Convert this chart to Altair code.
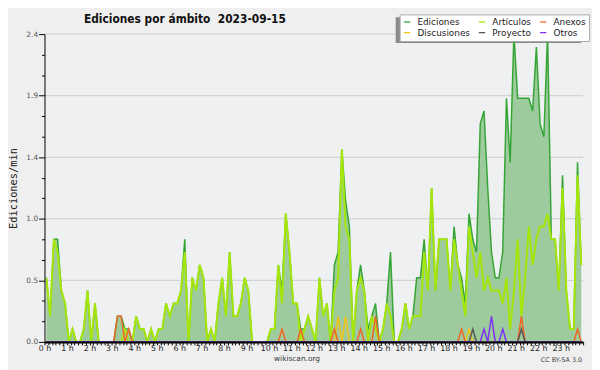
import altair as alt
import pandas as pd

# ---------------- data (edits per minute, 10-minute bins, 0:00 -> 24:00) ----------------
SERIES = ["Ediciones", "Artículos", "Anexos", "Discusiones", "Proyecto", "Otros"]
COLORS = ["#35a535", "#a6e60a", "#f26522", "#f2c418", "#555555", "#7f2ff0"]

ediciones = [
    0.5, 0.2, 0.8, 0.8, 0.4, 0.3, 0.0, 0.1, 0.0, 0.0, 0.1, 0.4,
    0.0, 0.3, 0.0, 0.0, 0.0, 0.0, 0.0, 0.2, 0.2, 0.1, 0.1, 0.0,
    0.2, 0.1, 0.1, 0.0, 0.1, 0.0, 0.1, 0.1, 0.3, 0.2, 0.3, 0.3,
    0.4, 0.8, 0.0, 0.5, 0.4, 0.6, 0.5, 0.0, 0.1, 0.0, 0.3, 0.5,
    0.2, 0.7, 0.2, 0.2, 0.3, 0.5, 0.4, 0.0, 0.0, 0.0, 0.0, 0.0,
    0.1, 0.1, 0.6, 0.4, 1.0, 0.7, 0.3, 0.3, 0.1, 0.1, 0.2, 0.1,
    0.0, 0.5, 0.2, 0.3, 0.0, 0.6, 0.7, 1.5, 1.1, 0.9, 0.0, 0.4,
    0.6, 0.4, 0.1, 0.2, 0.3, 0.0, 0.1, 0.3, 0.7, 0.0, 0.0, 0.1,
    0.3, 0.1, 0.2, 0.5, 0.5, 0.8, 0.4, 1.2, 0.4, 0.8, 0.8, 0.8,
    0.4, 0.9, 0.6, 0.5, 0.3, 1.0, 0.8, 0.7, 1.7, 1.8, 1.2, 0.7,
    0.5, 0.5, 0.7, 1.9, 1.4, 2.4, 1.9, 1.9, 1.9, 1.9, 1.8, 2.3,
    1.7, 1.6, 2.4, 0.8, 0.8, 0.4, 1.3, 0.4, 0.1, 0.1, 1.4, 0.6,
]
articulos = [
    0.5, 0.2, 0.8, 0.7, 0.4, 0.3, 0.0, 0.1, 0.0, 0.0, 0.1, 0.4,
    0.0, 0.3, 0.0, 0.0, 0.0, 0.0, 0.0, 0.0, 0.0, 0.1, 0.0, 0.0,
    0.2, 0.1, 0.1, 0.0, 0.1, 0.0, 0.1, 0.1, 0.3, 0.2, 0.3, 0.3,
    0.4, 0.7, 0.0, 0.5, 0.4, 0.6, 0.5, 0.0, 0.1, 0.0, 0.3, 0.5,
    0.2, 0.7, 0.2, 0.2, 0.3, 0.5, 0.4, 0.0, 0.0, 0.0, 0.0, 0.0,
    0.1, 0.1, 0.6, 0.3, 1.0, 0.7, 0.3, 0.3, 0.0, 0.1, 0.2, 0.1,
    0.0, 0.5, 0.2, 0.3, 0.0, 0.4, 0.5, 1.5, 0.9, 0.8, 0.0, 0.4,
    0.5, 0.4, 0.0, 0.2, 0.1, 0.0, 0.1, 0.3, 0.2, 0.0, 0.0, 0.1,
    0.3, 0.1, 0.2, 0.2, 0.2, 0.7, 0.4, 1.2, 0.4, 0.8, 0.8, 0.8,
    0.4, 0.8, 0.6, 0.4, 0.2, 0.9, 0.7, 0.5, 0.7, 0.4, 0.5, 0.4,
    0.4, 0.4, 0.3, 0.5, 0.1, 0.4, 0.8, 0.2, 0.5, 0.9, 0.6, 0.8,
    0.9, 0.9, 1.0, 0.8, 0.8, 0.4, 1.2, 0.4, 0.1, 0.1, 1.3, 0.6,
]
anexos = [
    0, 0, 0, 0, 0, 0, 0, 0, 0, 0, 0, 0,
    0, 0, 0, 0, 0, 0, 0, 0.2, 0.2, 0, 0.1, 0,
    0, 0, 0, 0, 0, 0, 0, 0, 0, 0, 0, 0,
    0, 0, 0, 0, 0, 0, 0, 0, 0, 0, 0, 0,
    0, 0, 0, 0, 0, 0, 0, 0, 0, 0, 0, 0,
    0, 0, 0, 0.1, 0, 0, 0, 0, 0.1, 0, 0, 0,
    0, 0, 0, 0, 0, 0.1, 0, 0, 0, 0, 0, 0,
    0.1, 0, 0, 0, 0.2, 0, 0, 0, 0, 0, 0, 0,
    0, 0, 0, 0, 0, 0, 0, 0, 0, 0, 0, 0,
    0, 0, 0, 0.1, 0, 0, 0, 0, 0, 0, 0, 0,
    0, 0, 0, 0, 0, 0, 0, 0.2, 0, 0, 0, 0,
    0, 0, 0, 0, 0, 0, 0, 0, 0, 0, 0.1, 0,
]
discusiones = [
    0, 0, 0, 0, 0, 0, 0, 0, 0, 0, 0, 0,
    0, 0, 0, 0, 0, 0, 0, 0, 0, 0, 0, 0,
    0, 0, 0, 0, 0, 0, 0, 0, 0, 0, 0, 0,
    0, 0, 0, 0, 0, 0, 0, 0, 0, 0, 0, 0,
    0, 0, 0, 0, 0, 0, 0, 0, 0, 0, 0, 0,
    0, 0, 0, 0, 0, 0, 0, 0, 0, 0, 0, 0,
    0, 0, 0, 0, 0, 0, 0.2, 0, 0.2, 0, 0, 0,
    0, 0, 0, 0, 0, 0, 0, 0, 0, 0, 0, 0,
    0, 0, 0, 0, 0, 0, 0, 0, 0, 0, 0, 0,
    0, 0, 0, 0, 0, 0.1, 0, 0, 0, 0, 0, 0,
    0, 0, 0, 0, 0, 0, 0, 0, 0, 0, 0, 0,
    0, 0, 0, 0, 0, 0, 0, 0, 0, 0, 0, 0,
]
proyecto = [
    0, 0, 0, 0, 0, 0, 0, 0, 0, 0, 0, 0,
    0, 0, 0, 0, 0, 0, 0, 0, 0, 0, 0, 0,
    0, 0, 0, 0, 0, 0, 0, 0, 0, 0, 0, 0,
    0, 0, 0, 0, 0, 0, 0, 0, 0, 0, 0, 0,
    0, 0, 0, 0, 0, 0, 0, 0, 0, 0, 0, 0,
    0, 0, 0, 0, 0, 0, 0, 0, 0, 0, 0, 0,
    0, 0, 0, 0, 0, 0, 0, 0, 0, 0, 0, 0,
    0, 0, 0, 0, 0, 0, 0, 0, 0, 0, 0, 0,
    0, 0, 0, 0, 0, 0, 0, 0, 0, 0, 0, 0,
    0, 0, 0, 0, 0, 0, 0.1, 0, 0, 0, 0, 0,
    0, 0, 0, 0, 0, 0, 0, 0.1, 0, 0, 0, 0,
    0, 0, 0, 0, 0, 0, 0, 0, 0, 0, 0, 0,
]
otros = [
    0, 0, 0, 0, 0, 0, 0, 0, 0, 0, 0, 0,
    0, 0, 0, 0, 0, 0, 0, 0, 0, 0, 0, 0,
    0, 0, 0, 0, 0, 0, 0, 0, 0, 0, 0, 0,
    0, 0, 0, 0, 0, 0, 0, 0, 0, 0, 0, 0,
    0, 0, 0, 0, 0, 0, 0, 0, 0, 0, 0, 0,
    0, 0, 0, 0, 0, 0, 0, 0, 0, 0, 0, 0,
    0, 0, 0, 0, 0, 0, 0, 0, 0, 0, 0, 0,
    0, 0, 0, 0, 0, 0, 0, 0, 0, 0, 0, 0,
    0, 0, 0, 0, 0, 0, 0, 0, 0, 0, 0, 0,
    0, 0, 0, 0, 0, 0, 0, 0, 0, 0.1, 0, 0.2,
    0, 0, 0.1, 0, 0, 0, 0, 0, 0, 0, 0, 0,
    0, 0, 0, 0, 0, 0, 0, 0, 0, 0, 0, 0,
]

y_ticks = [0, 0.16, 0.32, 0.48, 0.64, 0.8, 0.96, 1.12, 1.28, 1.44, 1.6, 1.76, 1.92, 2.08, 2.24, 2.4]
y_grid = [0.48, 0.96, 1.44, 1.92, 2.4]
x_ticks = [k / 6 for k in range(145)]          # one tick every 10 minutes

TITLE = "Ediciones por ámbito\u00a0 2023-09-15"
Y_TITLE = "Ediciones/min"
FOOTER = "wikiscan.org"
LICENSE = "CC BY-SA 3.0"

# ---------------- tables ----------------
hours = [(i + 0.5) / 6 for i in range(144)]   # centre of each 10-minute bin, in hours
rows = []
for name, vals in zip(SERIES, [ediciones, articulos, anexos, discusiones, proyecto, otros]):
    for h, v in zip(hours, vals):
        rows.append({"serie": name, "h": h, "v": v})
df = pd.DataFrame(rows)
grid_df = pd.DataFrame({"v": y_grid})

# ---------------- encodings ----------------
major = "round(datum.value / 0.16) % 3 == 0"
X = alt.X(
    "h:Q",
    scale=alt.Scale(domain=[0, 24], nice=False, zero=False),
    axis=alt.Axis(
        values=x_ticks,
        labelExpr="abs(datum.value - round(datum.value)) < 0.001 && datum.value < 23.5 ? round(datum.value) + ' h' : ''",
        title=None, grid=False, domainColor="black", domainWidth=2,
        tickColor="black", tickSize=3, tickWidth=1,
        labelFont="DejaVu Sans", labelFontSize=8, labelColor="#222",
        labelPadding=0, labelOverlap=False, labelFlush=False, zindex=1,
    ),
)
Y = alt.Y(
    "v:Q",
    scale=alt.Scale(domain=[0, 2.4], nice=False),
    axis=alt.Axis(
        values=y_ticks,
        labelExpr=major + " ? format(datum.value, '.1f') : ''",
        tickSize={"condition": {"test": major, "value": 6}, "value": 3},
        title=Y_TITLE, titleFont="DejaVu Sans Mono", titleFontSize=10.5,
        titleFontWeight="normal", titleColor="#222", titlePadding=7,
        grid=False, domainColor="black", domainWidth=1, tickColor="black",
        labelFont="DejaVu Sans", labelFontSize=7.5, labelColor="#555",
        labelPadding=1, labelOverlap=False, zindex=1,
    ),
)
COLOR = alt.Color(
    "serie:N",
    scale=alt.Scale(domain=SERIES, range=COLORS),
    legend=alt.Legend(
        orient="none", legendX=360, legendY=-20, columns=3, direction="horizontal",
        title=None, symbolType="stroke", symbolSize=40, symbolStrokeWidth=1.3,
        labelFont="DejaVu Sans", labelFontSize=9, labelColor="#222",
        labelOffset=6, columnPadding=5, rowPadding=1, padding=3,
        fillColor="white", strokeColor="#aaaaaa",
    ),
)

base = alt.Chart(df)

grid = alt.Chart(grid_df).mark_rule(color="#cccccc", strokeWidth=1).encode(y=Y)

shadow = alt.Chart(pd.DataFrame({"a": [0]})).mark_rect(color="#8a8a8a").encode(
    x=alt.value(356), x2=alt.value(544), y=alt.value(-17), y2=alt.value(9)
)

area = base.transform_filter(alt.datum.serie == "Ediciones").mark_area(
    color="#9dcb9d", opacity=1
).encode(x=X, y=Y)

line_layers = []
for name, width in [("Ediciones", 1.5), ("Artículos", 2), ("Discusiones", 1.5),
                    ("Anexos", 1.5), ("Proyecto", 1.5), ("Otros", 1.5)]:
    line_layers.append(
        base.transform_filter(alt.datum.serie == name)
        .mark_line(strokeWidth=width)
        .encode(x=X, y=Y, color=COLOR)
    )

txt = pd.DataFrame({"t": [TITLE]})
title = alt.Chart(txt).mark_text(
    font="DejaVu Sans Condensed, DejaVu Sans", fontSize=12, fontWeight="bold",
    color="#111", align="left", baseline="alphabetic",
).encode(text="t:N", x=alt.value(40), y=alt.value(-11))

footer = alt.Chart(pd.DataFrame({"t": [FOOTER]})).mark_text(
    font="DejaVu Sans", fontSize=7.5, color="#333", align="center", baseline="middle",
).encode(text="t:N", x=alt.value(256), y=alt.value(329.5))

lic = alt.Chart(pd.DataFrame({"t": [LICENSE]})).mark_text(
    font="DejaVu Sans", fontSize=6.5, color="#444", align="right", baseline="middle",
).encode(text="t:N", x=alt.value(545), y=alt.value(330.5))

chart = alt.layer(grid, shadow, area, *line_layers, title, footer, lic).properties(
    width=546, height=312,
    padding={"left": 37, "top": 24, "right": 9, "bottom": 26},
    autosize=alt.AutoSizeParams(type="none"),
    background="#efeff0",
).configure_view(stroke=None, fill="#eff0f1")

chart.save("out.html", embed_options={"renderer": "svg", "actions": False})
